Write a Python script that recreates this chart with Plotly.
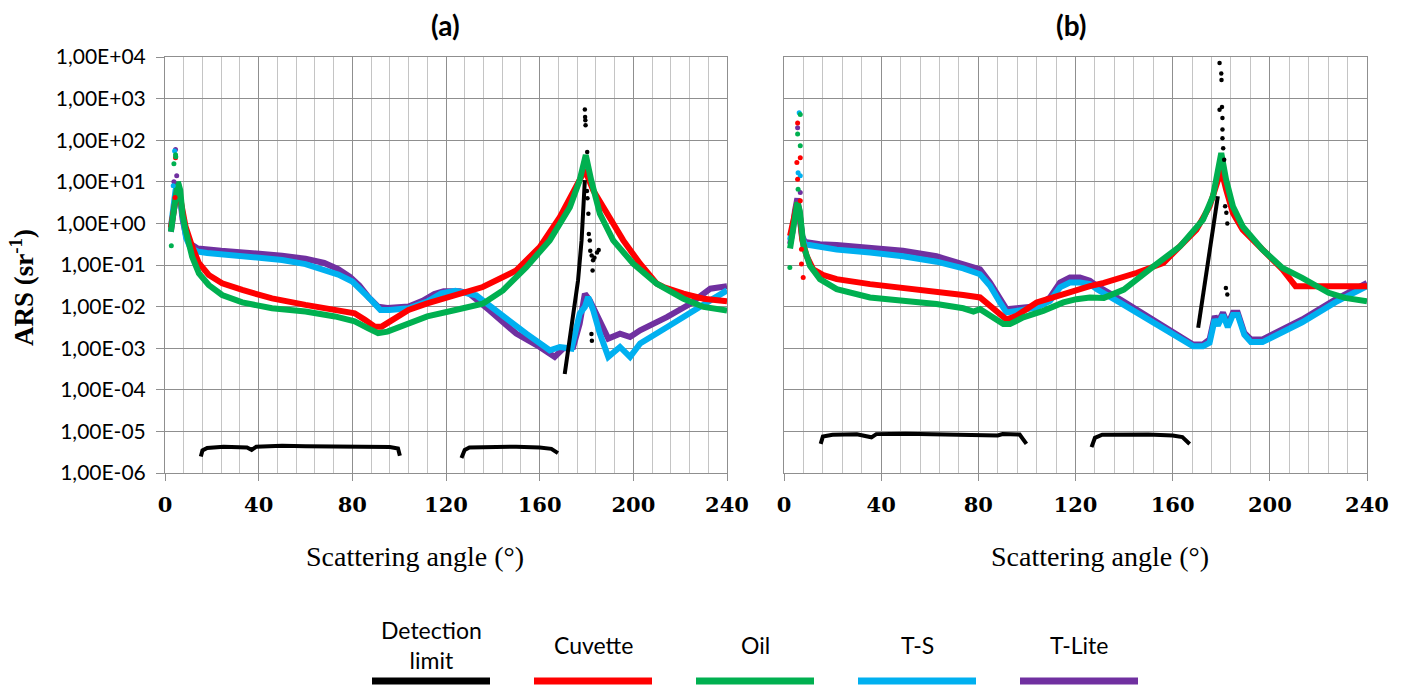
import plotly.graph_objects as go

# ---------------- categories / labels ----------------
series_names = ["Detection limit", "Cuvette", "Oil", "T-S", "T-Lite"]
legend_labels = ["Detection<br>limit", "Cuvette", "Oil", "T-S", "T-Lite"]
series_colors = ["#000000", "#FF0000", "#00B050", "#00B0F0", "#7030A0"]
panel_titles = ["(a)", "(b)"]
x_title = "Scattering angle (°)"
y_title = "ARS (sr<sup>-1</sup>)"
x_tick_vals = [0, 40, 80, 120, 160, 200, 240]
y_tick_vals = [1e-6, 1e-5, 1e-4, 1e-3, 1e-2, 1e-1, 1e0, 1e1, 1e2, 1e3, 1e4]
y_tick_text = ["1,00E-06", "1,00E-05", "1,00E-04", "1,00E-03", "1,00E-02", "1,00E-01",
               "1,00E+00", "1,00E+01", "1,00E+02", "1,00E+03", "1,00E+04"]

# ---------------- panel (a) ----------------
a_tlite_x = [2.5, 3.5, 4.5, 5.5, 6.5, 7.5, 9, 11, 14, 18, 24, 32, 40, 50, 60, 68, 74, 79, 83, 87, 91, 95,
             104, 110, 115, 119, 126, 130, 138.6, 150, 160, 166.4, 170, 174.3, 177.1, 179.3, 181.4, 184.3,
             189.3, 194.3, 198.6, 202.9, 214.3, 224.3, 232.9, 240]
a_tlite_y = [0.63, 2.0, 6.3, 10, 4.0, 1.26, 0.5, 0.32, 0.25, 0.234, 0.219, 0.204, 0.19, 0.166, 0.141, 0.112,
             0.079, 0.052, 0.032, 0.0166, 0.010, 0.0093, 0.010, 0.0138, 0.020, 0.0234, 0.0234, 0.0204, 0.0081,
             0.00224, 0.00107, 0.00062, 0.00098, 0.00107, 0.0039, 0.0204, 0.0141, 0.0068, 0.0017, 0.00224,
             0.00186, 0.0027, 0.0056, 0.0117, 0.0269, 0.031]

a_ts_x = [2.5, 3.5, 4.5, 5.5, 6.5, 7.5, 9, 11, 14, 18, 24, 32, 40, 50, 60, 68, 74, 80, 84, 88, 92, 96, 104,
          112, 118, 124, 132.9, 142.9, 154.3, 164.3, 168.6, 173.6, 177.1, 179.3, 180.7, 182.9, 185.7, 189.3,
          194.3, 198.6, 202.9, 214.3, 224.3, 232.9, 240]
a_ts_y = [0.79, 2.5, 6.3, 8.9, 3.2, 1.12, 0.45, 0.25, 0.21, 0.195, 0.182, 0.166, 0.155, 0.132, 0.105, 0.079,
          0.059, 0.040, 0.025, 0.0145, 0.0083, 0.0083, 0.0091, 0.0132, 0.0209, 0.024, 0.0186, 0.0068, 0.00224,
          0.00089, 0.00107, 0.00098, 0.0068, 0.0098, 0.017, 0.0081, 0.00224, 0.00062, 0.00107, 0.00062, 0.0013,
          0.0032, 0.0068, 0.0141, 0.0245]

a_cuv_x = [2.5, 3.5, 4.5, 5.5, 6.5, 7.5, 8.8, 11.6, 14.5, 18.7, 24.4, 33, 45.7, 60, 72.6, 81, 85.4, 89.6,
           92.5, 98, 104, 112, 121, 135.7, 150, 160, 168.6, 175.7, 179.3, 182.9, 188.6, 195.7, 202.9, 210,
           212.9, 221.4, 230, 240]
a_cuv_y = [0.79, 2.0, 5.0, 7.9, 4.0, 1.58, 0.83, 0.275, 0.11, 0.0575, 0.0363, 0.0251, 0.0158, 0.011, 0.0083,
           0.0069, 0.0048, 0.0033, 0.0033, 0.0052, 0.0083, 0.012, 0.0166, 0.0295, 0.074, 0.269, 1.41, 7.5, 19,
           6.2, 1.7, 0.39, 0.107, 0.0355, 0.0295, 0.0204, 0.0155, 0.0135]

a_oil_x = [2.5, 3.5, 4.5, 5.5, 6.5, 7.5, 8.8, 11.6, 14.5, 18.7, 24.4, 33, 45.7, 60, 72.6, 81, 86.8, 91, 95,
           104, 112, 124, 135.7, 144.3, 154.3, 164.3, 172.9, 177.1, 179.7, 182, 185.7, 191.4, 200, 210, 221.4,
           230, 240]
a_oil_y = [0.63, 1.58, 5.0, 10, 6.3, 1.58, 0.69, 0.158, 0.063, 0.033, 0.019, 0.0126, 0.0091, 0.0076, 0.0058,
           0.0044, 0.0030, 0.0023, 0.0025, 0.0040, 0.0058, 0.0083, 0.0117, 0.0245, 0.089, 0.39, 2.45, 11, 44,
           11, 1.7, 0.39, 0.107, 0.0355, 0.0155, 0.0098, 0.0081]

# scattered points around the forward peak (a)
a_tlite_dots_x = [4.5, 5.0, 3.8]
a_tlite_dots_y = [60, 14, 10]
a_ts_dots_x = [4.1, 3.5]
a_ts_dots_y = [55, 8]
a_cuv_dots_x = [4.5, 4.3]
a_cuv_dots_y = [38, 4.2]
a_oil_dots_x = [4.5, 4.6, 3.8, 2.7]
a_oil_dots_y = [45, 40, 27, 0.29]

# detection limit (a)
a_det1_x = [15.3, 16, 18, 25, 35, 37, 39, 50, 60, 70, 80, 90, 96, 99.5, 100.3]
a_det1_y = [2.5e-6, 3.5e-6, 4.0e-6, 4.3e-6, 4.1e-6, 3.6e-6, 4.3e-6, 4.5e-6, 4.4e-6, 4.4e-6, 4.3e-6, 4.2e-6,
            4.2e-6, 3.9e-6, 2.6e-6]
a_det2_x = [126.6, 128, 130, 140, 150, 160, 165, 167.8]
a_det2_y = [2.3e-6, 3.6e-6, 4.1e-6, 4.3e-6, 4.3e-6, 4.1e-6, 3.8e-6, 3.0e-6]
a_det3_x = [170.7, 172.9, 175, 176.4, 177.9, 178.6, 179.3]
a_det3_y = [2.4e-4, 1.55e-3, 9.8e-3, 0.043, 0.39, 2.45, 11]
a_det_dots_x = [179.3, 179.4, 179.5, 179.6, 180.3, 180.2, 180.4, 180.8, 181.0, 181.4, 181.6, 182.2, 182.8,
                183.4, 182.6, 182.1, 182.3, 184.5, 185.2]
a_det_dots_y = [550, 360, 300, 230, 52, 6, 4, 1.7, 0.56, 0.39, 0.22, 0.17, 0.13, 0.15, 0.074, 0.0022, 0.0015,
                0.2, 0.23]

# ---------------- panel (b) ----------------
b_tlite_x = [2.5, 3.5, 4.5, 5.5, 6.5, 7.5, 8.6, 14.8, 21.7, 35.4, 49, 62.8, 73.8, 80.7, 84.8, 88.9, 91.6,
             95.7, 104, 109.5, 113.6, 117.7, 121.8, 125.9, 129, 138.5, 152.1, 163, 168.4, 172.5, 175.2, 177.3,
             178.6, 180.7, 182.7, 184.8, 186.8, 189.5, 192.2, 197, 202.4, 213.3, 226.9, 240]
b_tlite_y = [0.32, 0.63, 2.0, 4.0, 1.6, 0.5, 0.36, 0.316, 0.302, 0.263, 0.219, 0.162, 0.105, 0.079, 0.038,
             0.0151, 0.0087, 0.0091, 0.0102, 0.0166, 0.038, 0.050, 0.050, 0.0417, 0.031, 0.0148, 0.0049,
             0.00195, 0.00123, 0.00123, 0.00162, 0.0059, 0.0041, 0.0072, 0.0037, 0.0071, 0.0071, 0.00234,
             0.00162, 0.00162, 0.00234, 0.0049, 0.0148, 0.037]

b_ts_x = [2.5, 3.5, 4.5, 5.5, 6.5, 7.5, 8.6, 14.8, 21.7, 35.4, 49, 62.8, 73.8, 80.7, 84.8, 88.9, 91.6, 95.7,
          104, 109.5, 113.6, 117.7, 121.8, 125.9, 129, 138.5, 152.1, 163, 168.4, 172.5, 175.2, 177.3, 178.6,
          180.7, 182.7, 184.8, 186.8, 189.5, 192.2, 197, 202.4, 213.3, 226.9, 240]
b_ts_y = [0.4, 0.8, 2.0, 3.2, 1.26, 0.45, 0.316, 0.27, 0.234, 0.20, 0.162, 0.12, 0.083, 0.060, 0.0316,
          0.0126, 0.0072, 0.0079, 0.0095, 0.0138, 0.029, 0.038, 0.038, 0.0347, 0.0257, 0.0123, 0.0041,
          0.00162, 0.00112, 0.00112, 0.00135, 0.0049, 0.0035, 0.0063, 0.0032, 0.0063, 0.0063, 0.0021, 0.0014,
          0.0014, 0.0020, 0.0042, 0.0126, 0.031]

b_cuv_x = [2.5, 3.5, 4.5, 5.5, 6.5, 7.5, 9.3, 12, 16.2, 21.7, 35.4, 49, 62.8, 73.8, 80.7, 84.8, 88.9, 91.6,
           95.7, 104, 110.8, 117.7, 125.9, 131.7, 145.3, 156.2, 161.6, 169.8, 175.2, 178.6, 180, 182, 184.8,
           188.8, 197, 205.2, 210.6, 216, 226.9, 240]
b_cuv_y = [0.5, 1.0, 2.0, 3.2, 1.6, 0.4, 0.166, 0.079, 0.0575, 0.0457, 0.0347, 0.0288, 0.024, 0.019, 0.0166,
           0.0105, 0.0060, 0.0049, 0.0060, 0.0126, 0.0166, 0.0229, 0.031, 0.037, 0.065, 0.112, 0.234, 0.71,
           2.57, 11.2, 19.5, 6.5, 1.78, 0.71, 0.234, 0.078, 0.031, 0.031, 0.0316, 0.031]

b_oil_x = [2.5, 3.5, 4.5, 5.5, 6.5, 7.5, 8, 10.7, 14.8, 21.7, 35.4, 49, 62.8, 73.8, 78, 80.7, 84.8, 90.3, 93,
           98.5, 106.7, 115, 120.4, 125.9, 131.7, 139.9, 152.1, 163, 172.5, 176.6, 180, 182, 184.8, 188.8, 197,
           205.2, 213.3, 224.2, 231, 240]
b_oil_y = [0.25, 0.63, 1.6, 3.2, 2.0, 0.63, 0.29, 0.095, 0.0457, 0.0263, 0.0166, 0.0138, 0.0115, 0.0091,
           0.0076, 0.0087, 0.0060, 0.0038, 0.0038, 0.0055, 0.0079, 0.0126, 0.0151, 0.0166, 0.0162, 0.0257,
           0.093, 0.28, 1.23, 4.5, 49, 11.2, 2.57, 0.85, 0.234, 0.085, 0.049, 0.0214, 0.0162, 0.0135]

# scattered points around the forward peak (b)
b_tlite_dots_x = [5.6, 6.7]
b_tlite_dots_y = [200, 5.5]
b_ts_dots_x = [6.25, 5.8, 6.7]
b_ts_dots_y = [455, 16.6, 14]
b_cuv_dots_x = [5.6, 6.7, 5.3, 5.6, 6.7, 7.2, 7.2, 7.9]
b_cuv_dots_y = [260, 38, 29, 11.5, 3.5, 0.24, 0.105, 0.05]
b_oil_dots_x = [6.7, 5.6, 6.7, 5.8, 2.4]
b_oil_dots_y = [415, 141, 74, 6.6, 0.087]

# detection limit (b)
b_det1_x = [15.1, 16, 20, 30, 36, 38, 50, 60, 70, 80, 88, 90, 97, 99.8]
b_det1_y = [5.0e-6, 7.5e-6, 8.3e-6, 8.5e-6, 7.2e-6, 8.6e-6, 8.8e-6, 8.7e-6, 8.6e-6, 8.5e-6, 8.0e-6, 8.6e-6,
            8.4e-6, 5.0e-6]
b_det2_x = [126.6, 128, 131, 140, 150, 160, 164, 167]
b_det2_y = [4.2e-6, 7.0e-6, 8.3e-6, 8.5e-6, 8.4e-6, 8.0e-6, 7.3e-6, 5.0e-6]
b_det3_x = [170.5, 172.5, 174.6, 176.5, 178.6]
b_det3_y = [3.1e-3, 0.019, 0.117, 0.72, 4.5]
b_det_dots_x = [179.3, 180.0, 180.1, 179.3, 180.3, 180.5, 180.5, 180.5, 180.8, 181.2, 181.6, 182.1, 182.5,
                181.9, 182.5]
b_det_dots_y = [7200, 4000, 2800, 540, 630, 340, 180, 112, 64, 34, 2.6, 1.8, 1.0, 0.028, 0.0195]

# ---------------- figure ----------------
fig = go.Figure()


def add_panel(xa, ya, curves, dots, det_lines, det_dots):
    for (xs, ys, col) in curves:
        fig.add_trace(go.Scatter(x=xs, y=ys, mode="lines", line=dict(color=col, width=6),
                                 xaxis=xa, yaxis=ya, showlegend=False, hoverinfo="skip"))
    for (xs, ys, col) in dots:
        fig.add_trace(go.Scatter(x=xs, y=ys, mode="markers", marker=dict(color=col, size=5),
                                 xaxis=xa, yaxis=ya, showlegend=False, hoverinfo="skip"))
    for (xs, ys) in det_lines:
        fig.add_trace(go.Scatter(x=xs, y=ys, mode="lines", line=dict(color=series_colors[0], width=4),
                                 xaxis=xa, yaxis=ya, showlegend=False, hoverinfo="skip"))
    xs, ys = det_dots
    fig.add_trace(go.Scatter(x=xs, y=ys, mode="markers", marker=dict(color=series_colors[0], size=4.5),
                             xaxis=xa, yaxis=ya, showlegend=False, hoverinfo="skip"))


add_panel("x", "y",
          [(a_tlite_x, a_tlite_y, series_colors[4]), (a_ts_x, a_ts_y, series_colors[3]),
           (a_cuv_x, a_cuv_y, series_colors[1]), (a_oil_x, a_oil_y, series_colors[2])],
          [(a_tlite_dots_x, a_tlite_dots_y, series_colors[4]), (a_ts_dots_x, a_ts_dots_y, series_colors[3]),
           (a_cuv_dots_x, a_cuv_dots_y, series_colors[1]), (a_oil_dots_x, a_oil_dots_y, series_colors[2])],
          [(a_det1_x, a_det1_y), (a_det2_x, a_det2_y), (a_det3_x, a_det3_y)],
          (a_det_dots_x, a_det_dots_y))
add_panel("x2", "y2",
          [(b_tlite_x, b_tlite_y, series_colors[4]), (b_ts_x, b_ts_y, series_colors[3]),
           (b_cuv_x, b_cuv_y, series_colors[1]), (b_oil_x, b_oil_y, series_colors[2])],
          [(b_tlite_dots_x, b_tlite_dots_y, series_colors[4]), (b_ts_dots_x, b_ts_dots_y, series_colors[3]),
           (b_cuv_dots_x, b_cuv_dots_y, series_colors[1]), (b_oil_dots_x, b_oil_dots_y, series_colors[2])],
          [(b_det1_x, b_det1_y), (b_det2_x, b_det2_y), (b_det3_x, b_det3_y)],
          (b_det_dots_x, b_det_dots_y))

W, H = 1407, 689
GRID_MAJOR = "#8f8f8f"
GRID_MINOR = "#c4c4c4"


def xaxis_cfg(domain, anchor):
    return dict(domain=domain, anchor=anchor, range=[0, 240], tickvals=x_tick_vals,
                showgrid=True, gridcolor=GRID_MAJOR, gridwidth=1,
                minor=dict(dtick=8, tick0=0, showgrid=True, gridcolor=GRID_MINOR, gridwidth=1, ticks=""),
                showline=True, linecolor=GRID_MAJOR, linewidth=1, mirror=True,
                ticks="outside", ticklen=7, tickcolor=GRID_MAJOR,
                ticklabelstandoff=6, automargin=False,
                tickfont=dict(family="DejaVu Serif", size=21, color="black", weight="bold"),
                zeroline=False, fixedrange=True)


def yaxis_cfg(domain, anchor, labels):
    return dict(domain=domain, anchor=anchor, type="log", range=[-6, 4],
                tickvals=y_tick_vals, ticktext=y_tick_text, showticklabels=labels,
                showgrid=True, gridcolor=GRID_MAJOR, gridwidth=1,
                showline=True, linecolor=GRID_MAJOR, linewidth=1, mirror=True,
                ticks="outside" if labels else "", ticklen=8, tickcolor=GRID_MAJOR,
                ticklabelstandoff=6, automargin=False,
                tickfont=dict(family="Lato", size=21, color="black"),
                zeroline=False, fixedrange=True)


ydom = [1 - 473 / H, 1 - 57 / H]
fig.update_layout(
    width=W, height=H, autosize=False,
    margin=dict(l=0, r=0, t=0, b=0, pad=0, autoexpand=False),
    paper_bgcolor="white", plot_bgcolor="white",
    showlegend=False,
    xaxis=xaxis_cfg([165 / W, 727 / W], "y"),
    yaxis=yaxis_cfg(ydom, "x", True),
    xaxis2=xaxis_cfg([784 / W, 1367 / W], "y2"),
    yaxis2=yaxis_cfg(ydom, "x2", False),
)

annotations = []
# panel titles
for t, cx in zip(panel_titles, [446, 1071]):
    annotations.append(dict(text="<b>%s</b>" % t, x=cx / W, y=1 - 25 / H, xref="paper", yref="paper",
                            showarrow=False, xanchor="center", yanchor="middle",
                            font=dict(family="Lato", size=28, color="black")))
# x titles
for cx in [415, 1100]:
    annotations.append(dict(text=x_title, x=cx / W, y=1 - 556 / H, xref="paper", yref="paper",
                            showarrow=False, xanchor="center", yanchor="middle",
                            font=dict(family="Liberation Serif", size=28, color="black")))
# y title
annotations.append(dict(text="<b>%s</b>" % y_title, x=22 / W, y=1 - 288 / H, xref="paper", yref="paper",
                        showarrow=False, textangle=-90, xanchor="center", yanchor="middle",
                        font=dict(family="Liberation Serif", size=27, color="black")))

# custom legend (text above a thick line)
shapes = []
for i, (lab, col) in enumerate(zip(legend_labels, series_colors)):
    cx = 431 + i * 162
    annotations.append(dict(text=lab, x=cx / W, y=1 - 645 / H, xref="paper", yref="paper",
                            showarrow=False, xanchor="center", yanchor="middle",
                            font=dict(family="Lato", size=23, color="black")))
    shapes.append(dict(type="line", xref="paper", yref="paper",
                       x0=(cx - 59) / W, x1=(cx + 59) / W, y0=1 - 681 / H, y1=1 - 681 / H,
                       line=dict(color=col, width=7)))

fig.update_layout(annotations=annotations, shapes=shapes)
fig.write_html("out.html", config={"displayModeBar": False},
               post_script="document.body.style.margin='0';document.body.style.padding='0';")
